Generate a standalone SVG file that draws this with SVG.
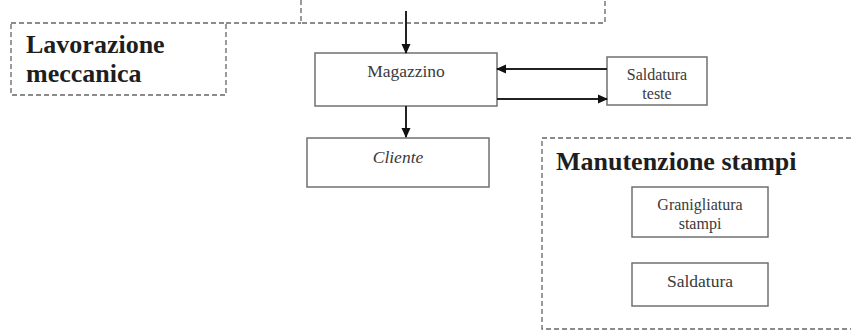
<svg xmlns="http://www.w3.org/2000/svg" width="851" height="331" viewBox="0 0 851 331">
<style>
.dash{fill:none;stroke:#666;stroke-width:1.3;stroke-dasharray:5 3}
.box{fill:#fff;stroke:#707070;stroke-width:1.5}
.t{font-family:"Liberation Serif",serif;font-size:17.5px;fill:#3a3a3a;text-anchor:middle}
.t2{font-size:16px}
.h{font-family:"Liberation Serif",serif;font-size:26px;font-weight:bold;fill:#1e1e1e}
.ln{stroke:#222;stroke-width:2;fill:none}
</style>
<defs>
<marker id="ah" markerWidth="10" markerHeight="10" refX="9" refY="5" orient="auto" markerUnits="userSpaceOnUse">
<path d="M0,0.5 L10,5 L0,9.5 Z" fill="#111"/>
</marker>
</defs>
<g id="top-group"><path class="dash" d="M301,0 V23 H605 V0"/></g>
<g id="lavorazione">
<rect class="dash" x="11" y="23" width="215" height="72"/>
<path class="dash" d="M226,23 H301"/>
<text class="h" x="26" y="53">Lavorazione</text>
<text class="h" x="26" y="82">meccanica</text>
</g>
<g id="magazzino">
<rect class="box" x="315" y="53" width="182" height="53"/>
<text class="t" x="406" y="77">Magazzino</text>
</g>
<g id="saldatura-teste">
<rect class="box" x="607" y="57" width="100" height="48"/>
<text class="t t2" x="657" y="80">Saldatura</text>
<text class="t t2" x="657" y="99">teste</text>
</g>
<g id="cliente">
<rect class="box" x="307" y="138" width="182" height="49"/>
<text class="t" x="398" y="163" font-style="italic">Cliente</text>
</g>
<g id="manutenzione">
<path class="dash" d="M851,138 H542 V329 H851"/>
<text class="h" x="556" y="170">Manutenzione stampi</text>
</g>
<g id="granigliatura">
<rect class="box" x="632" y="187" width="136" height="50"/>
<text class="t t2" x="700" y="210">Granigliatura</text>
<text class="t t2" x="700" y="229">stampi</text>
</g>
<g id="saldatura">
<rect class="box" x="632" y="263" width="136" height="43"/>
<text class="t" x="700" y="287">Saldatura</text>
</g>
<g id="connectors">
<line class="ln" x1="406" y1="11" x2="406" y2="53" marker-end="url(#ah)"/>
<line class="ln" x1="607" y1="69" x2="497" y2="69" marker-end="url(#ah)"/>
<line class="ln" x1="497" y1="99" x2="607" y2="99" marker-end="url(#ah)"/>
<line class="ln" x1="406" y1="106" x2="406" y2="137" marker-end="url(#ah)"/>
</g>
</svg>
